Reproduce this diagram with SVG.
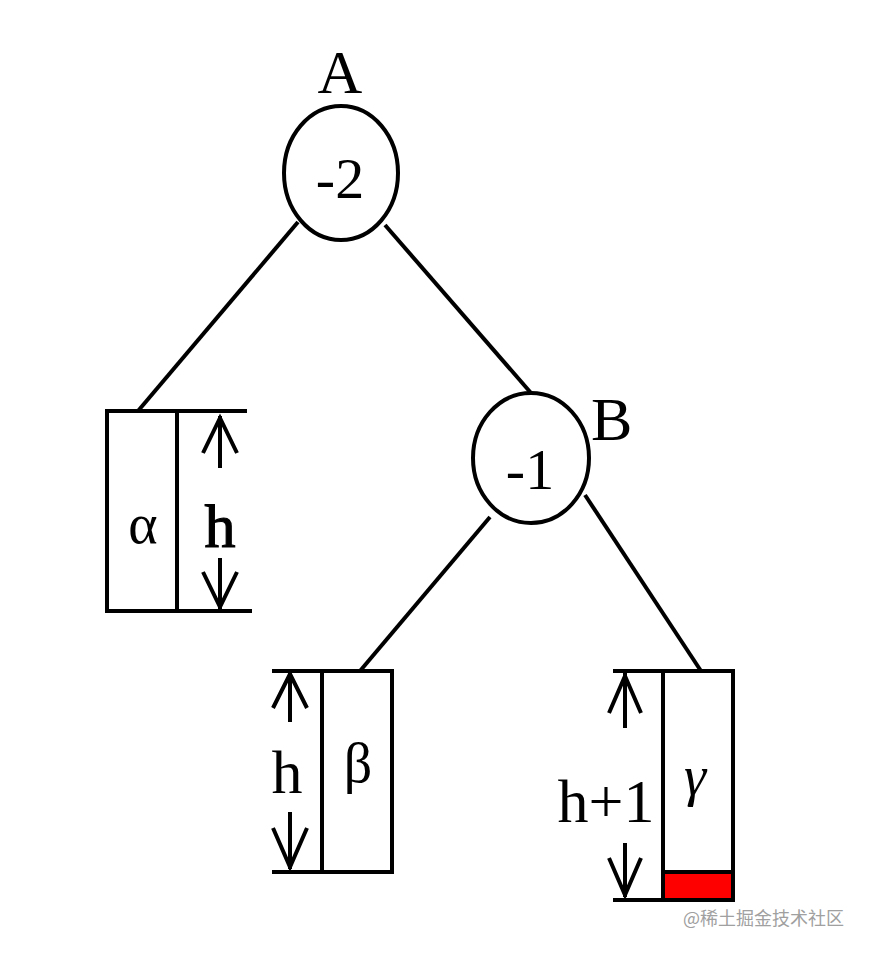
<svg xmlns="http://www.w3.org/2000/svg" width="870" height="954" viewBox="0 0 870 954">
<style>
.s{stroke:#000;stroke-width:4;fill:none}
.n{stroke:#000;stroke-width:4;fill:#fff}
.t{font-family:"Liberation Serif","Times New Roman",serif;fill:#000;text-anchor:middle}
.w{font-family:"Noto Sans CJK SC","Noto Sans",sans-serif;fill:#a0a0a0;font-size:18px}
</style>
<rect width="870" height="954" fill="#fff"/>
<g id="edges">
<line class="s" x1="298" y1="222" x2="138" y2="411"/>
<line class="s" x1="385" y1="225" x2="531" y2="393"/>
<line class="s" x1="490" y1="517" x2="360" y2="671"/>
<line class="s" x1="585" y1="495" x2="701" y2="671"/>
</g>
<g id="nodeA">
<ellipse class="n" cx="341" cy="173" rx="57" ry="67"/>
<text class="t" x="340" y="198" font-size="58">-2</text>
<text class="t" x="340" y="93" font-size="62">A</text>
</g>
<g id="nodeB">
<ellipse class="n" cx="531" cy="458" rx="58" ry="65"/>
<text class="t" x="530" y="489" font-size="58">-1</text>
<text class="t" x="591" y="440" font-size="62" style="text-anchor:start">B</text>
</g>
<g id="alpha">
<rect class="s" x="107" y="411" width="70" height="200"/>
<text class="t" x="143" y="543" font-size="56">α</text>
<line class="s" x1="177" y1="411" x2="247" y2="411"/>
<line class="s" x1="177" y1="611" x2="252" y2="611"/>
<path class="s" d="M220 416V468M203 453L220 418L237 453M220 558V609M203 572L220 607L237 572"/>
<text class="t" x="220" y="547" font-size="62" stroke="#000" stroke-width="1.2">h</text>
</g>
<g id="beta">
<rect class="s" x="322" y="671" width="70" height="201"/>
<text class="t" x="358" y="782" font-size="56">β</text>
<line class="s" x1="272" y1="671" x2="322" y2="671"/>
<line class="s" x1="272" y1="872" x2="322" y2="872"/>
<path class="s" d="M290 673V722M273 708L290 674L307 708M290 812V869M273 828L290 867L307 828"/>
<text class="t" x="287" y="793" font-size="62">h</text>
</g>
<g id="gamma">
<rect x="665" y="872" width="67" height="27" fill="#ff0000"/>
<line class="s" x1="663" y1="872" x2="733" y2="872"/>
<rect class="s" x="663" y="671" width="70" height="229"/>
<text class="t" x="695" y="795" font-size="56" font-style="italic">γ</text>
<line class="s" x1="613" y1="671" x2="663" y2="671"/>
<line class="s" x1="613" y1="900" x2="663" y2="900"/>
<path class="s" d="M625 673V728M609 713L625 676L641 713M625 843V897M609 858L625 895L641 858"/>
<text class="t" x="606" y="822" font-size="62">h+1</text>
</g>
<text class="w" x="683" y="925">@稀土掘金技术社区</text>
</svg>
